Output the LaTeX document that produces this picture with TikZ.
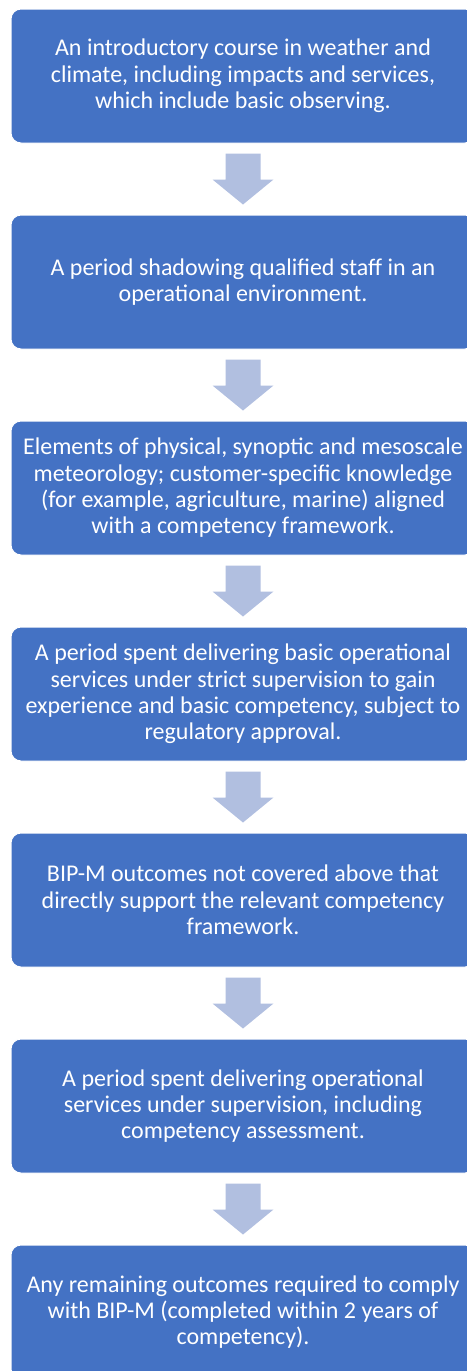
\documentclass[tikz,border=0pt]{standalone}
\usepackage{fontspec}
\setmainfont{Carlito}
\usetikzlibrary{calc}
\definecolor{boxblue}{HTML}{4472C4}
\definecolor{arrowblue}{HTML}{B1BFE0}
\tikzset{
  stepbox/.style={draw=white, line width=1pt, fill=boxblue, rounded corners=10pt,
    minimum width=464pt, minimum height=134pt, text=white, align=center,
    font=\fontsize{24}{26.3}\selectfont, inner sep=0pt},
  blockarrow/.style={fill=arrowblue, draw=none}
}
\newcommand{\downarrowshape}[1]{%
  \fill[blockarrow] ([shift={(-17.5,10)}]#1.south) -- ([shift={(17.5,10)}]#1.south)
    -- ([shift={(17.5,36)}]#1.south) -- ([shift={(30.5,36)}]#1.south)
    -- ([shift={(0,61)}]#1.south) -- ([shift={(-30.5,36)}]#1.south)
    -- ([shift={(-17.5,36)}]#1.south) -- cycle;}
\begin{document}
\begin{tikzpicture}[x=1pt,y=-1pt]
\useasboundingbox (0,0) rectangle (466,1371);
\node[stepbox] (b1) at (243,76) {An introductory course in weather and\\climate, including impacts and services,\\which include basic observing.};
\node[stepbox] (b2) at (243,282) {A period shadowing qualified staff in an\\operational environment.};
\node[stepbox] (b3) at (243,488) {Elements of physical, synoptic and mesoscale\\meteorology; customer-specific knowledge\\(for example, agriculture, marine) aligned\\with a competency framework.};
\node[stepbox] (b4) at (243,694) {A period spent delivering basic operational\\services under strict supervision to gain\\experience and basic competency, subject to\\regulatory approval.};
\node[stepbox] (b5) at (243,900) {BIP-M outcomes not covered above that\\directly support the relevant competency\\framework.};
\node[stepbox] (b6) at (243,1106) {A period spent delivering operational\\services under supervision, including\\competency assessment.};
\node[stepbox] (b7) at (243,1312) {Any remaining outcomes required to comply\\with BIP-M (completed within 2 years of\\competency).};
\downarrowshape{b1}
\downarrowshape{b2}
\downarrowshape{b3}
\downarrowshape{b4}
\downarrowshape{b5}
\downarrowshape{b6}
\end{tikzpicture}
\end{document}
